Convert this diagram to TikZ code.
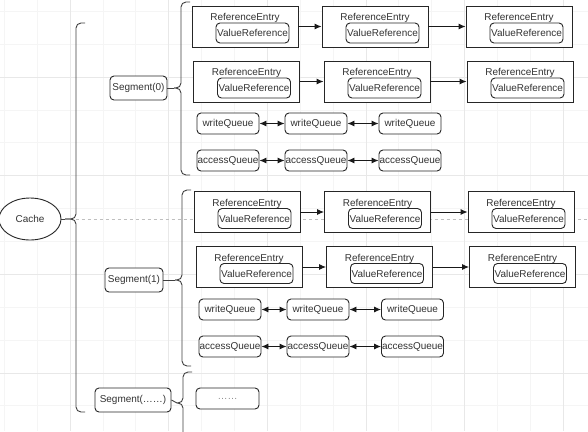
\documentclass[tikz,border=0pt]{standalone}
\usepackage{fontspec}
\setmainfont{Liberation Sans}
\usetikzlibrary{arrows.meta,shapes.geometric}
\newcommand\RefEntry[3]{%
  \node[rebox] (#1) at (#2,#3) {};
  \node[txt,yshift=8.5bp] (#1t) at (#2,#3) {ReferenceEntry};
  \node[vrbox,xshift=7.5bp,yshift=-6.5bp] (#1v) at (#2,#3) {ValueReference};
}
\newcommand\SegBrace[6]{% name, x, top, mid, bottom, tipx
  \coordinate (#1tip) at (#6,#4);
  \draw[brace] (#2+9,#3) -- (#2,#3) -- (#2,#4) -- (#1tip);
  \draw[brace] (#2+9,#5) -- (#2,#5) -- (#2,#4) -- (#1tip);
}
\begin{document}
\begin{tikzpicture}[x=1bp,y=-1bp,
  font=\fontsize{10}{12}\selectfont,
  txt/.style={text=black!80, inner sep=0},
  rebox/.style={draw=black!85, fill=white, line width=0.9bp, minimum width=106bp, minimum height=41bp, inner sep=0},
  vrbox/.style={draw=black!85, fill=white, rounded corners=4bp, line width=0.9bp, minimum width=73bp, minimum height=20bp, inner sep=0, text=black!80},
  qbox/.style={draw=black!85, fill=white, rounded corners=4bp, line width=0.9bp, minimum width=62bp, minimum height=21bp, inner sep=0, text=black!80},
  segbox/.style={draw=black!85, fill=white, rounded corners=4bp, line width=0.9bp, minimum height=24bp, inner sep=0, text=black!80},
  link/.style={-{Latex[length=7bp,width=6bp]}, line width=0.9bp, black!90},
  blink/.style={{Latex[length=7bp,width=6bp]}-{Latex[length=7bp,width=6bp]}, line width=0.9bp, black!90},
  brace/.style={draw=black!75, line width=0.9bp, rounded corners=5bp},
  gmaj/.style={draw=black!9, line width=0.6bp},
  gmin/.style={draw=black!4, line width=0.5bp}]
\useasboundingbox (0,0) rectangle (588,431);
\fill[white] (0,0) rectangle (588,431);
% grid
\foreach \k in {-3,...,18} \draw[gmin] ({70+32.87*\k},0) -- ++(0,431);
\foreach \k in {-3,...,13} \draw[gmin] (0,{77+32.87*\k}) -- ++(588,0);
\foreach \k in {-1,...,6} \draw[gmaj] ({70+98.6*\k},0) -- ++(0,431);
\foreach \k in {-1,...,4} \draw[gmaj] (0,{77+98.6*\k}) -- ++(588,0);
% dashed guide
\coordinate (dashA) at (70,219);
\coordinate (dashB) at (588,219);
\draw[black!25, dashed, line width=0.6bp] (dashA) -- (dashB);

% Cache
\node[ellipse, draw=black!85, fill=white, line width=0.9bp, minimum width=62bp, minimum height=42bp, inner sep=0, text=black!80] (cache) at (30,219) {Cache};
\SegBrace{big}{76}{23}{219}{412}{65}
\draw[black!75, line width=0.9bp] (cache.east) -- (bigtip);

% Segments
\node[segbox, minimum width=57bp] (seg0) at (138.5,88) {Segment(0)};
\node[segbox, minimum width=58bp] (seg1) at (134,280) {Segment(1)};
\node[segbox, minimum width=76bp] (segn) at (133,400) {Segment(……)};
\SegBrace{b0}{181}{2}{88}{175}{174}
\SegBrace{b1}{182}{190}{280}{366}{175}
\SegBrace{bn}{183}{372}{403}{445}{177}
\draw[black!75, line width=0.9bp] (seg0.east) -- (b0tip);
\draw[black!75, line width=0.9bp] (seg1.east) -- (b1tip);
\draw[black!75, line width=0.9bp] (segn.east) -- (bntip);

% Segment(0)
\RefEntry{a1}{245}{26.5}
\RefEntry{a2}{375}{26.5}
\RefEntry{a3}{519}{26.5}
\RefEntry{c1}{246.5}{81.5}
\RefEntry{c2}{377}{81.5}
\RefEntry{c3}{520}{81.5}
\draw[link] (a1) -- (a2);
\draw[link] (a2) -- (a3);
\draw[link] (c1) -- (c2);
\draw[link] (c2) -- (c3);
\node[qbox] (w01) at (228,123.5) {writeQueue};
\node[qbox] (w02) at (316,123.5) {writeQueue};
\node[qbox] (w03) at (410,123.5) {writeQueue};
\node[qbox] (q01) at (228,160.5) {accessQueue};
\node[qbox] (q02) at (316,160.5) {accessQueue};
\node[qbox] (q03) at (410,160.5) {accessQueue};
\draw[blink] (w01) -- (w02);
\draw[blink] (w02) -- (w03);
\draw[blink] (q01) -- (q02);
\draw[blink] (q02) -- (q03);

% Segment(1)
\RefEntry{d1}{247}{212}
\RefEntry{d2}{377.5}{212}
\RefEntry{d3}{521}{212}
\RefEntry{e1}{249}{267}
\RefEntry{e2}{379.5}{267}
\RefEntry{e3}{522.5}{267}
\draw[link] (d1) -- (d2);
\draw[link] (d2) -- (d3);
\draw[link] (e1) -- (e2);
\draw[link] (e2) -- (e3);
\node[qbox] (w11) at (230,309.5) {writeQueue};
\node[qbox] (w12) at (318,309.5) {writeQueue};
\node[qbox] (w13) at (412.5,309.5) {writeQueue};
\node[qbox] (q11) at (230,346.5) {accessQueue};
\node[qbox] (q12) at (318,346.5) {accessQueue};
\node[qbox] (q13) at (412.5,346.5) {accessQueue};
\draw[blink] (w11) -- (w12);
\draw[blink] (w12) -- (w13);
\draw[blink] (q11) -- (q12);
\draw[blink] (q12) -- (q13);

% Segment(......)
\node[qbox, minimum width=63bp, text=black!45] (dots) at (227.5,398.5) {……};
\end{tikzpicture}
\end{document}
